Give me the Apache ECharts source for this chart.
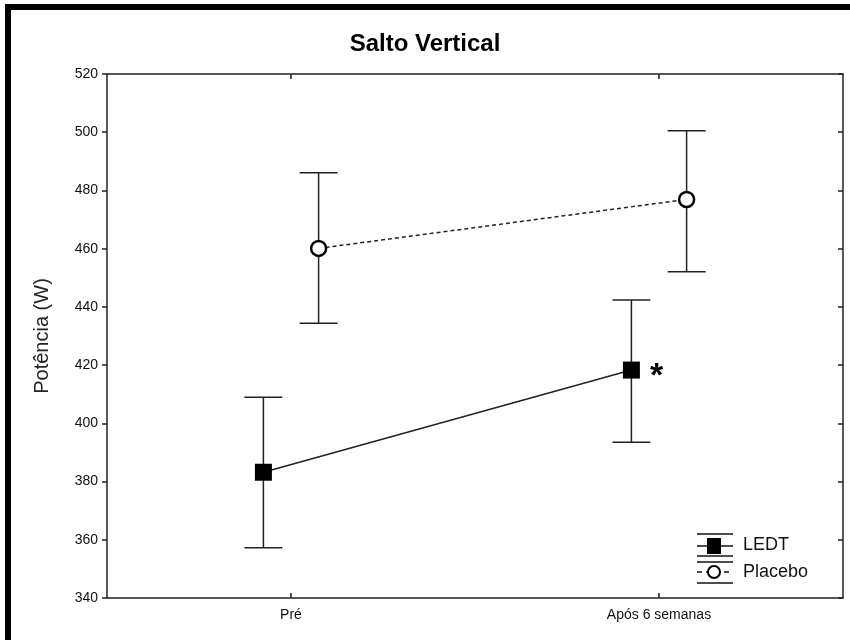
<!DOCTYPE html>
<html>
<head>
<meta charset="utf-8">
<title>Salto Vertical</title>
<script src="https://cdn.jsdelivr.net/npm/echarts@6/dist/echarts.min.js"></script>
<style>
  html, body { margin: 0; padding: 0; background: #fff; }
  #chart { width: 850px; height: 640px; }
</style>
</head>
<body>
<div id="chart"></div>
<script>
// dados
const categories = ['Pré', 'Após 6 semanas'];
const ledtMean = [383.2, 418.3];
const ledtLow = [357.3, 393.5];
const ledtHigh = [409.0, 442.4];
const placeboMean = [460.1, 476.9];
const placeboLow = [434.4, 452.1];
const placeboHigh = [486.1, 500.5];
const yTicks = [340, 360, 380, 400, 420, 440, 460, 480, 500, 520];

const FONT = '"Liberation Sans", Arial, sans-serif';
const INK = '#111';
const dodge = 0.075; // deslocamento dos grupos em cada categoria

const xPos = (i, side) => i + 1 + side * dodge;

const ledtPoints = ledtMean.map((v, i) => [xPos(i, -1), v]);
const placeboPoints = placeboMean.map((v, i) => [xPos(i, 1), v]);
const ledtErr = ledtMean.map((_, i) => [xPos(i, -1), ledtLow[i], ledtHigh[i]]);
const placeboErr = placeboMean.map((_, i) => [xPos(i, 1), placeboLow[i], placeboHigh[i]]);

// barra de erro com traços horizontais nas pontas
function renderErrorBar(params, api) {
  const x = api.value(0);
  const lo = api.coord([x, api.value(1)]);
  const hi = api.coord([x, api.value(2)]);
  const half = 19;
  const style = { stroke: '#222', lineWidth: 1.5 };
  return {
    type: 'group',
    children: [
      { type: 'line', shape: { x1: lo[0], y1: lo[1], x2: hi[0], y2: hi[1] }, style },
      { type: 'line', shape: { x1: hi[0] - half, y1: hi[1], x2: hi[0] + half, y2: hi[1] }, style },
      { type: 'line', shape: { x1: lo[0] - half, y1: lo[1], x2: lo[0] + half, y2: lo[1] }, style }
    ]
  };
}

const axisLine = { show: true, lineStyle: { color: '#222', width: 1.5 } };
const tickCfg = (inside) => ({ show: true, inside, length: 5, lineStyle: { color: '#222', width: 1.5 } });

// legenda desenhada à mão (ícone de barra de erro)
const lg = { x0: 697, x1: 733, cx: 714 };
const lgLine = { stroke: '#111', lineWidth: 1.5 };
const legendGraphic = {
  type: 'group',
  children: [
    { type: 'line', shape: { x1: lg.x0, y1: 534, x2: lg.x1, y2: 534 }, style: lgLine },
    { type: 'line', shape: { x1: lg.x0, y1: 546, x2: lg.x1, y2: 546 }, style: lgLine },
    { type: 'line', shape: { x1: lg.x0, y1: 556, x2: lg.x1, y2: 556 }, style: lgLine },
    { type: 'rect', shape: { x: lg.cx - 7, y: 538, width: 14, height: 16 }, style: { fill: '#000' } },
    { type: 'line', shape: { x1: lg.x0, y1: 562, x2: lg.x1, y2: 562 }, style: lgLine },
    { type: 'line', shape: { x1: lg.x0, y1: 572, x2: lg.x1, y2: 572 }, style: { stroke: '#111', lineWidth: 1.5, lineDash: [5, 4] } },
    { type: 'line', shape: { x1: lg.x0, y1: 583, x2: lg.x1, y2: 583 }, style: lgLine },
    { type: 'circle', shape: { cx: lg.cx, cy: 572, r: 6 }, style: { fill: '#fff', stroke: '#000', lineWidth: 2 } },
    { type: 'text', x: 743, y: 545, style: { text: 'LEDT', font: '18px ' + FONT, fill: INK, verticalAlign: 'middle' } },
    { type: 'text', x: 743, y: 572, style: { text: 'Placebo', font: '18px ' + FONT, fill: INK, verticalAlign: 'middle' } }
  ]
};

const chart = echarts.init(document.getElementById('chart'), null, { renderer: 'canvas' });

chart.setOption({
  backgroundColor: '#fff',
  animation: false,
  textStyle: { fontFamily: FONT },
  title: {
    text: 'Salto Vertical',
    left: 'center',
    top: 27,
    textStyle: { fontSize: 24, fontWeight: 'bold', color: '#000', fontFamily: FONT }
  },
  grid: { left: 107, right: 7, top: 74, bottom: 42 },
  xAxis: [
    {
      type: 'value', min: 0.5, max: 2.5, position: 'bottom',
      axisLine, axisTick: { ...tickCfg(true), customValues: [1, 2] },
      axisLabel: {
        customValues: [1, 2], margin: 10, fontSize: 14, color: INK,
        formatter: (v) => categories[Math.round(v) - 1]
      },
      splitLine: { show: false }
    },
    {
      type: 'value', min: 0.5, max: 2.5, position: 'top',
      axisLine, axisTick: { ...tickCfg(true), customValues: [1, 2] },
      axisLabel: { show: false }, splitLine: { show: false }
    }
  ],
  yAxis: [
    {
      type: 'value', min: yTicks[0], max: yTicks[yTicks.length - 1], interval: 20,
      axisLine, axisTick: tickCfg(false),
      axisLabel: { margin: 9, fontSize: 14, color: INK },
      splitLine: { show: false },
      name: 'Potência (W)', nameLocation: 'middle', nameGap: 55,
      nameTextStyle: { fontSize: 20, color: '#222', fontFamily: FONT }
    },
    {
      type: 'value', min: yTicks[0], max: yTicks[yTicks.length - 1], interval: 20, position: 'right',
      axisLine, axisTick: tickCfg(true),
      axisLabel: { show: false }, splitLine: { show: false }
    }
  ],
  series: [
    {
      name: 'LEDT err', type: 'custom', renderItem: renderErrorBar,
      encode: { x: 0, y: [1, 2] }, data: ledtErr, z: 1, silent: true
    },
    {
      name: 'Placebo err', type: 'custom', renderItem: renderErrorBar,
      encode: { x: 0, y: [1, 2] }, data: placeboErr, z: 1, silent: true
    },
    {
      name: 'LEDT', type: 'line', z: 3,
      symbol: 'rect', symbolSize: 17,
      itemStyle: { color: '#000' },
      lineStyle: { color: '#222', width: 1.5 },
      data: ledtPoints.map((p, i) => i === 1 ? {
        value: p,
        label: {
          show: true, position: 'right', distance: 10, offset: [0, 7],
          formatter: '*', fontSize: 34, fontWeight: 'bold', color: '#000'
        }
      } : p)
    },
    {
      name: 'Placebo', type: 'line', z: 3,
      symbol: 'circle', symbolSize: 15,
      itemStyle: { color: '#fff', borderColor: '#000', borderWidth: 2.5 },
      lineStyle: { color: '#222', width: 1.5, type: [4, 3] },
      data: placeboPoints
    }
  ],
  graphic: [
    legendGraphic,
    // moldura preta externa
    { type: 'rect', shape: { x: 8, y: 7, width: 900, height: 700 }, style: { fill: null, stroke: '#000', lineWidth: 6 }, z: 100 }
  ]
});
</script>
</body>
</html>
